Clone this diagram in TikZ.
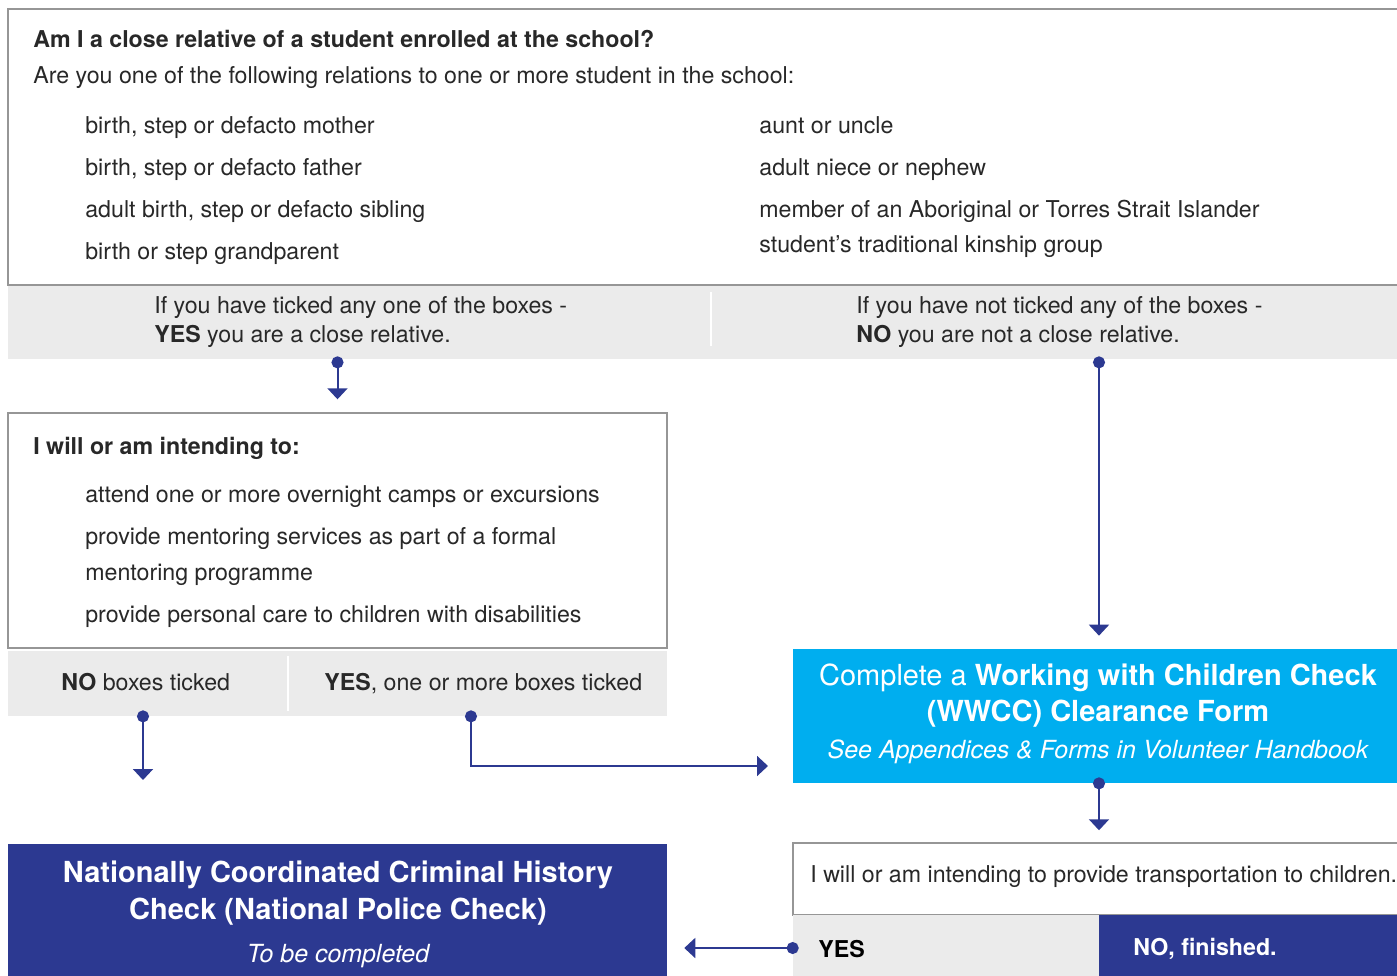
\documentclass[tikz,border=0pt]{standalone}
\usepackage{fontspec}
\setmainfont{TeX Gyre Heros}
\usetikzlibrary{arrows.meta}
\definecolor{navyblue}{RGB}{44,57,145}
\definecolor{skyblue}{RGB}{0,174,239}
\definecolor{bandgrey}{RGB}{235,235,235}
\definecolor{edgegrey}{RGB}{150,150,150}
\definecolor{inkgrey}{RGB}{40,40,40}
\newcommand\bodyfont{\fontsize{13.2}{16}\selectfont}
\newcommand\headfont{\fontsize{16.5}{20}\selectfont\bfseries}
\newcommand\notefont{\fontsize{14.2}{17}\selectfont\itshape}

\begin{document}
\begin{tikzpicture}[x=0.02cm, y=-0.02cm,
	outbox/.style={draw=edgegrey, line width=0.03cm, fill=white, inner sep=0pt},
	band/.style={fill=bandgrey, inner sep=0pt},
	navybox/.style={fill=navyblue, inner sep=0pt},
	txt/.style={anchor=base west, inner sep=0pt, text=inkgrey, font=\bodyfont},
	ctxt/.style={anchor=base, inner sep=0pt, text=white, font=\headfont},
	divider/.style={draw=white, line width=0.04cm},
	flow/.style={draw=navyblue, line width=0.04cm, arrows={Circle[length=0.24cm]-Triangle[width=0.4cm,length=0.22cm]}, shorten <=-0.12cm}
	]
	%%%%% START %%%%%
	\useasboundingbox (0,0) rectangle (1397,975);
	\clip (0,0) rectangle (1397,975);
	
	% close relative question
	\node[outbox, minimum width=27.94cm, minimum height=5.52cm] (relbox) at (706.5,147) {};
	\node[txt, font=\bodyfont\bfseries] (reltitle) at (33,47) {Am I a close relative of a student enrolled at the school?};
	\node[txt] (relintro) at (33,83) {Are you one of the following relations to one or more student in the school:};
	\node[txt] (mother) at (85,133) {birth, step or defacto mother};
	\node[txt] (father) at (85,175) {birth, step or defacto father};
	\node[txt] (sibling) at (85,217) {adult birth, step or defacto sibling};
	\node[txt] (grandparent) at (85,259) {birth or step grandparent};
	\node[txt] (aunt) at (759,133) {aunt or uncle};
	\node[txt] (niece) at (759,175) {adult niece or nephew};
	\node[txt] (kinship) at (759,217) {member of an Aboriginal or Torres Strait Islander};
	\node[txt] (kinshiptwo) at (759,252) {student’s traditional kinship group};
	
	\node[band, minimum width=27.94cm, minimum height=1.46cm] (relband) at (706.5,322.5) {};
	\draw[divider] (711,292) -- (711,346);
	\node[txt] (relyes) at (154,313) {If you have ticked any one of the boxes -};
	\node[txt] (relyestwo) at (154,342) {\textbf{YES} you are a close relative.};
	\node[txt] (relno) at (856,313) {If you have not ticked any of the boxes -};
	\node[txt] (relnotwo) at (856,342) {\textbf{NO} you are not a close relative.};
	
	% intentions
	\node[outbox, minimum width=13.18cm, minimum height=4.7cm] (intend) at (337.5,530.5) {};
	\node[txt, font=\bodyfont\bfseries] (intendtitle) at (33,454) {I will or am intending to:};
	\node[txt] (camps) at (85,502) {attend one or more overnight camps or excursions};
	\node[txt] (mentor) at (85,544) {provide mentoring services as part of a formal};
	\node[txt] (mentortwo) at (85,580) {mentoring programme};
	\node[txt] (care) at (85,622) {provide personal care to children with disabilities};
	
	\node[band, minimum width=13.18cm, minimum height=1.3cm] (intendband) at (337.5,683.5) {};
	\draw[divider] (288,656) -- (288,711);
	\node[txt] (intendno) at (61,690) {\textbf{NO} boxes ticked};
	\node[txt] (intendyes) at (324,690) {\textbf{YES}, one or more boxes ticked};
	
	% working with children check
	\node[fill=skyblue, inner sep=0pt, minimum width=12.24cm, minimum height=2.68cm] (wwcc) at (1099,716) {};
	\node[ctxt] (wwccone) at (1098,685) {\mdseries Complete a \bfseries Working with Children Check};
	\node[ctxt] (wwcctwo) at (1098,721) {(WWCC) Clearance Form};
	\node[ctxt, font=\notefont] (wwccnote) at (1098,758) {See Appendices \& Forms in Volunteer Handbook};
	
	% transport
	\node[outbox, minimum width=12.24cm, minimum height=1.44cm] (transport) at (1099,879) {};
	\node[txt] (transporttext) at (810,882) {I will or am intending to provide transportation to children.};
	\node[band, minimum width=6.12cm, minimum height=1.32cm] (transportyes) at (946,948) {};
	\node[txt, font=\bodyfont\bfseries, text=black] (yeslabel) at (818,957) {YES};
	\node[navybox, minimum width=6.12cm, minimum height=1.32cm] (finished) at (1252,948) {};
	\node[txt, font=\bodyfont\bfseries, text=white] (nolabel) at (1133,955) {NO, finished.};
	
	% police check
	\node[navybox, minimum width=13.18cm, minimum height=2.74cm] (police) at (337.5,912.5) {};
	\node[ctxt] (policeone) at (338,882) {Nationally Coordinated Criminal History};
	\node[ctxt] (policetwo) at (338,919) {Check (National Police Check)};
	\node[ctxt, font=\notefont] (policenote) at (338,962) {To be completed};
	
	% connectors
	\coordinate (policein) at (143,780);
	\coordinate (wwccin) at (768,766);
	\draw[flow, shorten <=-0.06cm, shorten >=0.26cm] (relband.south -| intend.north) -- (intend.north);
	\draw[flow, shorten <=-0.06cm, shorten >=0.26cm] (relband.south -| wwcc.north) -- (wwcc.north);
	\draw[flow] (intendband.south -| policein) -- (policein);
	\draw[flow] ([xshift=2.67cm]intendband.south) |- (wwccin);
	\draw[flow, shorten >=0.24cm] (wwcc.south) -- (transport.north);
	\draw[flow, shorten >=0.34cm] (transportyes.west) -- (transportyes.west -| police.east);
	
	%%%%% END %%%%%
\end{tikzpicture}
\end{document}
